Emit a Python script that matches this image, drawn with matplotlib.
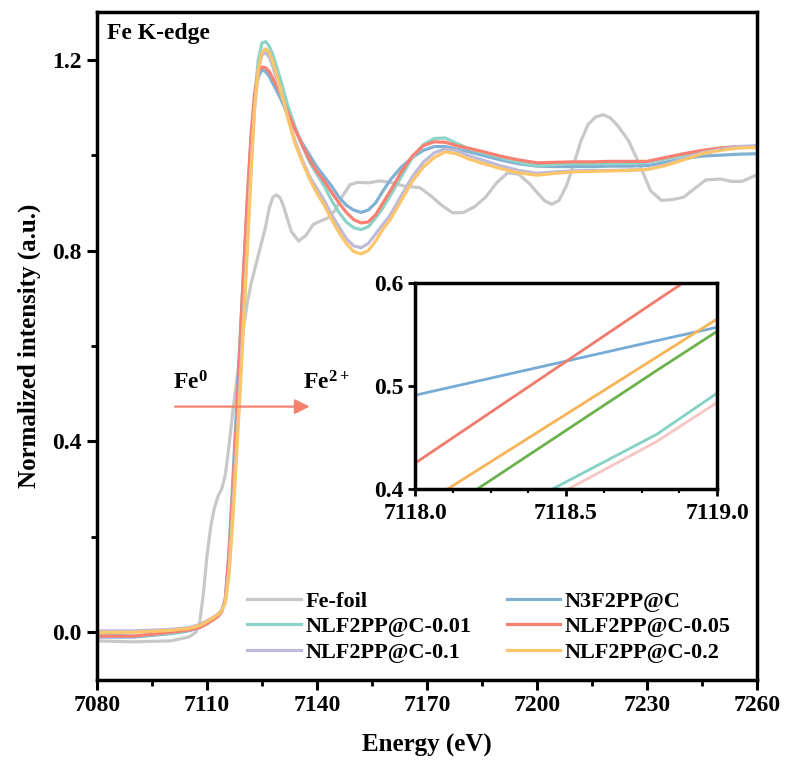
import matplotlib
matplotlib.use("Agg")
import matplotlib.pyplot as plt
from matplotlib.ticker import MultipleLocator, FormatStrFormatter

plt.rcParams['font.family'] = ['Liberation Serif', 'DejaVu Serif']
plt.rcParams['font.weight'] = 'bold'
plt.rcParams['mathtext.fontset'] = 'custom'
plt.rcParams['mathtext.rm'] = 'Liberation Serif:bold'
plt.rcParams['mathtext.it'] = 'Liberation Serif:bold'
plt.rcParams['mathtext.bf'] = 'Liberation Serif:bold'

# ---- Fe K-edge XANES data ----
energy = [7080, 7090, 7100, 7105, 7108, 7110, 7112, 7113, 7114, 7115,
          7116, 7117, 7118, 7119, 7120, 7121, 7122, 7123, 7124, 7125,
          7126, 7127, 7128, 7130, 7132, 7134, 7136, 7138, 7140, 7142,
          7144, 7146, 7148, 7150, 7152, 7154, 7156, 7158, 7160, 7163,
          7166, 7169, 7172, 7175, 7178, 7181, 7185, 7190, 7195, 7200,
          7205, 7210, 7215, 7220, 7225, 7230, 7235, 7240, 7245, 7250,
          7255, 7260]

n3f2pp = [-0.010, -0.010, -0.003, 0.003, 0.010, 0.018, 0.028, 0.034, 0.043, 0.070,
          0.17, 0.31, 0.46, 0.61, 0.76, 0.90, 1.03, 1.12, 1.165, 1.179,
          1.175, 1.165, 1.15, 1.12, 1.085, 1.055, 1.025, 1.000, 0.975, 0.955,
          0.935, 0.912, 0.895, 0.885, 0.880, 0.885, 0.900, 0.925, 0.948, 0.975,
          0.995, 1.010, 1.018, 1.018, 1.013, 1.008, 1.000, 0.990, 0.982, 0.977,
          0.976, 0.976, 0.976, 0.977, 0.977, 0.978, 0.985, 0.993, 0.998, 1.000,
          1.002, 1.003]

nlf_001 = [-0.005, -0.008, -0.002, 0.005, 0.012, 0.020, 0.030, 0.035, 0.045, 0.065,
           0.13, 0.25, 0.38, 0.52, 0.67, 0.83, 0.99, 1.12, 1.20, 1.235,
           1.238, 1.228, 1.21, 1.16, 1.105, 1.06, 1.02, 0.985, 0.960, 0.935,
           0.905, 0.880, 0.860, 0.848, 0.844, 0.850, 0.868, 0.890, 0.915, 0.955,
           0.995, 1.022, 1.035, 1.036, 1.025, 1.015, 1.005, 0.995, 0.985, 0.978,
           0.980, 0.982, 0.982, 0.982, 0.983, 0.985, 0.992, 1.000, 1.008, 1.015,
           1.018, 1.018]

nlf_005 = [-0.008, -0.008, 0.000, 0.005, 0.010, 0.018, 0.028, 0.033, 0.043, 0.070,
           0.16, 0.29, 0.43, 0.60, 0.76, 0.91, 1.04, 1.13, 1.175, 1.185,
           1.183, 1.175, 1.16, 1.13, 1.09, 1.055, 1.02, 0.990, 0.965, 0.945,
           0.922, 0.900, 0.880, 0.865, 0.858, 0.860, 0.875, 0.900, 0.925, 0.965,
           0.998, 1.020, 1.028, 1.027, 1.020, 1.015, 1.008, 0.998, 0.990, 0.984,
           0.985, 0.986, 0.986, 0.987, 0.987, 0.987, 0.995, 1.003, 1.010, 1.015,
           1.018, 1.018]

nlf_01 = [0.003, 0.003, 0.006, 0.010, 0.016, 0.024, 0.033, 0.038, 0.046, 0.065,
          0.13, 0.25, 0.38, 0.52, 0.67, 0.82, 0.97, 1.10, 1.18, 1.21,
          1.215, 1.205, 1.185, 1.135, 1.08, 1.03, 0.990, 0.955, 0.930, 0.905,
          0.875, 0.850, 0.825, 0.810, 0.806, 0.815, 0.835, 0.855, 0.875, 0.915,
          0.955, 0.985, 1.005, 1.013, 1.010, 1.000, 0.990, 0.978, 0.968, 0.962,
          0.965, 0.967, 0.968, 0.968, 0.969, 0.970, 0.980, 0.993, 1.005, 1.012,
          1.018, 1.020]

nlf_02 = [0.000, 0.000, 0.004, 0.008, 0.014, 0.022, 0.032, 0.037, 0.045, 0.062,
          0.12, 0.23, 0.36, 0.50, 0.65, 0.80, 0.96, 1.10, 1.18, 1.215,
          1.223, 1.215, 1.195, 1.14, 1.08, 1.025, 0.985, 0.950, 0.920, 0.895,
          0.865, 0.838, 0.815, 0.798, 0.793, 0.800, 0.820, 0.845, 0.865, 0.905,
          0.945, 0.975, 0.995, 1.007, 1.003, 0.993, 0.983, 0.972, 0.963, 0.958,
          0.962, 0.965, 0.966, 0.967, 0.968, 0.970, 0.978, 0.990, 1.003, 1.010,
          1.015, 1.016]

foil_energy = [7080, 7090, 7100, 7105, 7107, 7108, 7109, 7110, 7111, 7112,
               7113, 7114, 7115, 7116, 7117, 7118, 7119, 7120, 7121, 7122,
               7123, 7124, 7125, 7126, 7127, 7128, 7129, 7130, 7131, 7132,
               7133, 7135, 7137, 7139, 7141, 7143, 7145, 7147, 7149, 7151,
               7154, 7157, 7160, 7164, 7168, 7171, 7174, 7177, 7180, 7183,
               7186, 7189, 7192, 7195, 7198, 7200, 7202, 7204, 7206, 7208,
               7210, 7212, 7214, 7216, 7218, 7220, 7222, 7225, 7228, 7231,
               7234, 7237, 7240, 7243, 7246, 7250, 7253, 7256, 7260]
fe_foil = [-0.018, -0.020, -0.018, -0.010, 0.000, 0.020, 0.080, 0.160, 0.220, 0.260,
           0.285, 0.300, 0.330, 0.390, 0.460, 0.520, 0.580, 0.640, 0.690, 0.730,
           0.760, 0.790, 0.820, 0.850, 0.890, 0.912, 0.917, 0.910, 0.890, 0.865,
           0.840, 0.820, 0.832, 0.855, 0.862, 0.868, 0.885, 0.915, 0.938, 0.943,
           0.942, 0.946, 0.943, 0.935, 0.932, 0.915, 0.895, 0.879, 0.880, 0.892,
           0.912, 0.942, 0.963, 0.960, 0.940, 0.922, 0.905, 0.897, 0.905, 0.935,
           0.980, 1.030, 1.065, 1.080, 1.085, 1.078, 1.062, 1.030, 0.980, 0.925,
           0.905, 0.907, 0.912, 0.930, 0.948, 0.950, 0.945, 0.945, 0.959]

# zoomed edge region (7118-7119 eV)
inset_energy = [7118.0, 7118.8, 7119.0]
inset_blue = [0.491, 0.544, 0.557]
inset_red = [0.425, 0.583, 0.622]
inset_orange = [0.380, 0.528, 0.565]
inset_green = [0.360, 0.515, 0.553]
inset_teal = [0.330, 0.453, 0.493]
inset_pink = [0.320, 0.446, 0.484]

labels = ['Fe-foil', 'N3F2PP@C', 'NLF2PP@C-0.01', 'NLF2PP@C-0.05',
          'NLF2PP@C-0.1', 'NLF2PP@C-0.2']
colors = ['#c8c8c8', '#80b1d3', '#8dd3c7', '#fb8072', '#bebada', '#fdc56a']

fig = plt.figure(figsize=(7.89, 7.65), dpi=100)
ax = fig.add_axes([0.1229, 0.1111, 0.8365, 0.8732])

lw = 2.3
series = [(foil_energy, fe_foil), (energy, n3f2pp), (energy, nlf_001),
          (energy, nlf_005), (energy, nlf_01), (energy, nlf_02)]
handles = []
for (xs, ys), lab, col in zip(series, labels, colors):
    h, = ax.plot(xs, ys, color=col, lw=lw, label=lab, solid_joinstyle='round')
    handles.append(h)

ax.set_xlim(7080, 7260)
ax.set_ylim(-0.1, 1.3)
ax.xaxis.set_major_locator(MultipleLocator(30))
ax.xaxis.set_minor_locator(MultipleLocator(15))
ax.yaxis.set_major_locator(MultipleLocator(0.4))
ax.yaxis.set_minor_locator(MultipleLocator(0.2))
ax.yaxis.set_major_formatter(FormatStrFormatter('%.1f'))
ax.tick_params(which='major', direction='out', length=7, width=2.2,
               labelsize=17, pad=4)
ax.tick_params(which='minor', direction='out', length=4, width=2.0)
for s in ax.spines.values():
    s.set_linewidth(2.5)

ax.set_xlabel('Energy (eV)', fontsize=18, fontweight='bold', labelpad=13)
ax.set_ylabel('Normalized intensity (a.u.)', fontsize=18, fontweight='bold',
              labelpad=8)

ax.text(0.015, 0.983, 'Fe K-edge', transform=ax.transAxes, fontsize=17,
        fontweight='bold', ha='left', va='top')

# oxidation-state shift arrow
ax.annotate('', xy=(7138, 0.473), xytext=(7101.3, 0.473),
            arrowprops=dict(arrowstyle='-|>', color='#f4806e', lw=1.6,
                            mutation_scale=22, shrinkA=0, shrinkB=0))
ax.text(7105.4, 0.522, r'Fe$^{0}$', fontsize=17, ha='center', va='center')
ax.text(7142.5, 0.522, r'Fe$^{2+}$', fontsize=17, ha='center', va='center')

order = [0, 2, 4, 1, 3, 5]
ax.legend([handles[i] for i in order], [labels[i] for i in order],
          ncol=2, frameon=False, loc='upper left',
          bbox_to_anchor=(0.228, 0.133), borderaxespad=0, borderpad=0,
          handlelength=2.4, handletextpad=0.2, columnspacing=1.6,
          labelspacing=0.22, prop={'size': 16, 'weight': 'bold'})

# inset
axi = fig.add_axes([0.526, 0.3608, 0.3828, 0.2693])
inset_series = [inset_blue, inset_red, inset_orange, inset_green,
                inset_teal, inset_pink]
inset_colors = ['#76abd6', '#f07a6c', '#f7b457', '#6cb24c', '#85d2c4',
                '#f9c4c4']
for ys, col in zip(inset_series, inset_colors):
    axi.plot(inset_energy, ys, color=col, lw=2.0)
axi.set_xlim(7118.0, 7119.0)
axi.set_ylim(0.4, 0.6)
axi.xaxis.set_major_locator(MultipleLocator(0.5))
axi.xaxis.set_minor_locator(MultipleLocator(0.125))
axi.yaxis.set_major_locator(MultipleLocator(0.1))
axi.xaxis.set_major_formatter(FormatStrFormatter('%.1f'))
axi.yaxis.set_major_formatter(FormatStrFormatter('%.1f'))
axi.tick_params(which='major', direction='out', length=5, width=2.0,
                labelsize=17)
axi.tick_params(axis='x', which='major', pad=5)
axi.tick_params(axis='y', which='major', pad=3)
axi.tick_params(which='minor', direction='out', length=3, width=1.5)
for s in axi.spines.values():
    s.set_linewidth(2.5)

fig.savefig('out.png', dpi=100)
